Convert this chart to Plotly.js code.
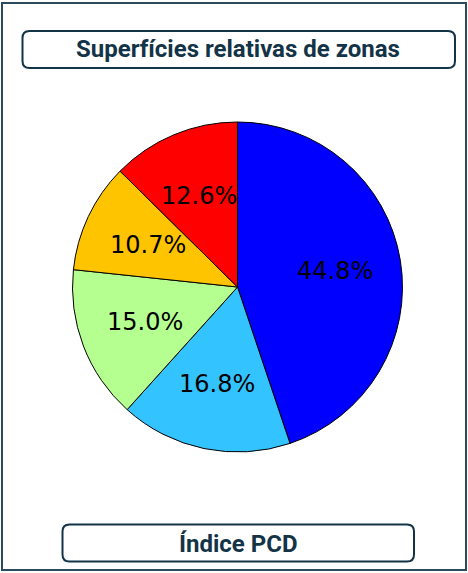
<!DOCTYPE html>
<html>
<head>
<meta charset="utf-8">
<script src="https://cdn.plot.ly/plotly-3.0.1.min.js"></script>
<style>
html,body{margin:0;padding:0;background:#fff;}
#chart{width:468px;height:573px;}
</style>
</head>
<body>
<div id="chart"></div>
<script>
const zones = ["Zona 1", "Zona 2", "Zona 3", "Zona 4", "Zona 5"];
const shares = [44.8, 16.8, 15.0, 10.7, 12.6];
const sliceColors = ["#0000ff", "#33c4ff", "#b5ff91", "#ffc400", "#ff0000"];
const chartTitle = "Superfícies relativas de zonas";
const footerText = "Índice PCD";

const W = 468, H = 573;
const px = x => x / W;
const py = y => 1 - y / H;

function roundedRect(x0, y0, x1, y1, r) {
  const X0 = px(x0), X1 = px(x1), Y0 = py(y0), Y1 = py(y1);
  const rx = r / W, ry = r / H;
  return `M ${X0 + rx},${Y0} L ${X1 - rx},${Y0} Q ${X1},${Y0} ${X1},${Y0 - ry} ` +
         `L ${X1},${Y1 + ry} Q ${X1},${Y1} ${X1 - rx},${Y1} ` +
         `L ${X0 + rx},${Y1} Q ${X0},${Y1} ${X0},${Y1 + ry} ` +
         `L ${X0},${Y0 - ry} Q ${X0},${Y0} ${X0 + rx},${Y0} Z`;
}

const navy = "#133347";

// pie geometry (pixels)
const pieCx = 237.5, pieCy = 287, pieR = 165;
const domX = [px(pieCx - pieR), px(pieCx + pieR)];
const domY = [py(pieCy + pieR), py(pieCy - pieR)];

const data = [{
  type: "pie",
  labels: zones,
  values: shares,
  sort: false,
  direction: "clockwise",
  rotation: 0,
  marker: {colors: sliceColors, line: {color: "#000000", width: 1}},
  textinfo: "none",
  hoverinfo: "label+percent",
  showlegend: false,
  domain: {x: domX, y: domY}
}];

// percentage labels at 0.6 radius along each slice's mid-angle (matplotlib style)
const total = shares.reduce((a, b) => a + b, 0);
let cum = 0;
const labelAnns = shares.map(v => {
  const mid = (cum + v / 2) / total * 2 * Math.PI;
  cum += v;
  const lx = pieCx + 0.6 * pieR * Math.sin(mid);
  const ly = pieCy - 0.6 * pieR * Math.cos(mid);
  return {xref: "paper", yref: "paper", x: px(lx), y: py(ly), xanchor: "center", yanchor: "middle",
          text: v.toFixed(1) + "%", showarrow: false,
          font: {family: "DejaVu Sans", size: 24, color: "#000000"}};
});

const layout = {
  width: W, height: H,
  margin: {l: 0, r: 0, t: 0, b: 0},
  paper_bgcolor: "#ffffff",
  showlegend: false,
  shapes: [
    {type: "rect", xref: "paper", yref: "paper", x0: px(2), x1: px(466), y0: py(3), y1: py(570),
     line: {color: "#2b4a5c", width: 2}, fillcolor: "rgba(0,0,0,0)"},
    {type: "path", xref: "paper", yref: "paper", path: roundedRect(22.5, 31, 455, 68, 7),
     line: {color: navy, width: 2}, fillcolor: "#ffffff"},
    {type: "path", xref: "paper", yref: "paper", path: roundedRect(62.5, 524.5, 414, 561.5, 7),
     line: {color: navy, width: 2}, fillcolor: "#ffffff"}
  ],
  annotations: [
    {xref: "paper", yref: "paper", x: px(238.5), y: py(49.5), xanchor: "center", yanchor: "middle",
     text: "<b>" + chartTitle + "</b>", showarrow: false,
     font: {family: "Roboto", size: 24, color: navy}},
    {xref: "paper", yref: "paper", x: px(238), y: py(543.5), xanchor: "center", yanchor: "middle",
     text: "<b>" + footerText + "</b>", showarrow: false,
     font: {family: "Roboto", size: 24, color: navy}}
  ].concat(labelAnns)
};

Plotly.newPlot("chart", data, layout, {staticPlot: true, displayModeBar: false});
</script>
</body>
</html>
